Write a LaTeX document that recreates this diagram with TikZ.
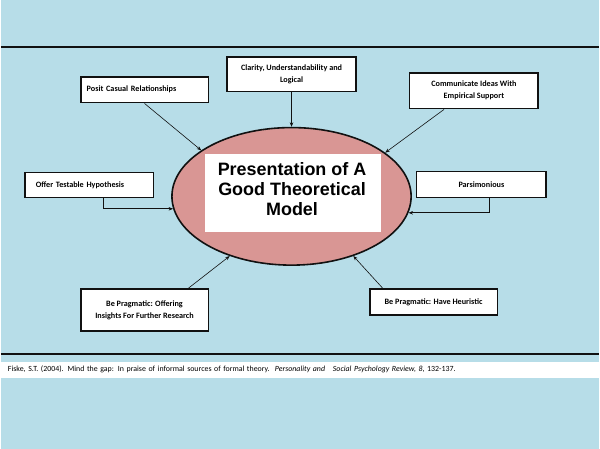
\documentclass[tikz,border=0pt]{standalone}
\usepackage{fontspec}
\setmainfont{Carlito}
\newfontfamily\headfont{Liberation Sans}
\usetikzlibrary{arrows.meta, positioning, calc, shapes.geometric}
\definecolor{slideblue}{HTML}{B7DDE8}
\definecolor{modelpink}{HTML}{D99694}
\definecolor{darktext}{HTML}{111111}

\begin{document}
\begin{tikzpicture}[x=1pt, y=-1pt,
    idea/.style={draw=darktext, line width=1.6pt, fill=white, align=center,
        font=\bfseries\fontsize{8.2}{12}\selectfont, minimum width=128pt, inner sep=0pt},
    link/.style={-{Stealth[length=4.5pt, width=3.5pt]}, line width=0.6pt, darktext}]
    % slide background and rules
    \fill[slideblue] (0,0) rectangle (600,450);
    \draw[line width=2pt, darktext] (0,47) -- (600,47);
    \draw[line width=2pt, darktext] (0,355) -- (600,355);
    % central model
    \node[ellipse, draw=darktext, line width=1.6pt, fill=modelpink,
        minimum width=240pt, minimum height=138pt] (model) at (291.5,197) {};
    \node[fill=white, minimum width=176pt, minimum height=78pt] (titlebox) at (293,194) {};
    \node[align=center, font=\headfont\bfseries\fontsize{18}{20}\selectfont, inner sep=0pt]
        (title) at (292,190) {Presentation of A\\Good Theoretical\\Model};
    % surrounding qualities
    \node[idea, minimum height=26pt, text width=116pt, align=left] (posit) at (144,90) {Posit Casual Relationships};
    \node[idea, minimum width=129pt, minimum height=35pt] (clarity) at (291.5,74.5) {Clarity, Understandability and\\Logical};
    \node[idea, minimum width=129pt, minimum height=36pt] (ideas) at (474.5,91) {Communicate Ideas With\\Empirical Support};
    \node[idea, minimum width=129pt, minimum height=25pt, text width=107pt, align=left] (offer) at (88.5,185.5) {Offer Testable Hypothesis};
    \node[idea, minimum width=130pt, minimum height=26pt] (parsim) at (482,185) {Parsimonious};
    \node[idea, minimum height=42pt] (further) at (144,311) {Be Pragmatic: Offering\\Insights For Further Research};
    \node[idea, minimum height=26pt] (heuristic) at (434,303) {Be Pragmatic: Have Heuristic};
    % connectors
    \draw[link] (posit.south) -- (model.153);
    \draw[link] (clarity.south) -- (model.north);
    \draw[link] ([xshift=-30pt]ideas.south) -- (model.25.5);
    \draw[link] ([xshift=14.5pt]offer.south) |- (model.186.8);
    \draw[link] ([xshift=8pt]parsim.south) |- (model.-8.3);
    \draw[link] ([xshift=44pt]further.north) -- (model.224);
    \draw[link] ([xshift=-51pt]heuristic.north) -- (model.316);
    % reference
    \node[fill=white, minimum width=600pt, minimum height=16pt, text width=586pt, inner sep=0pt,
        align=left, font=\fontsize{7.9}{9}\selectfont] (cite) at (300,371)
        {Fiske, S.T. (2004). Mind the gap: In praise of informal sources of formal theory.\ \ \textit{Personality and\ \ \ Social Psychology Review, 8}, 132-137.};
\end{tikzpicture}
\end{document}
